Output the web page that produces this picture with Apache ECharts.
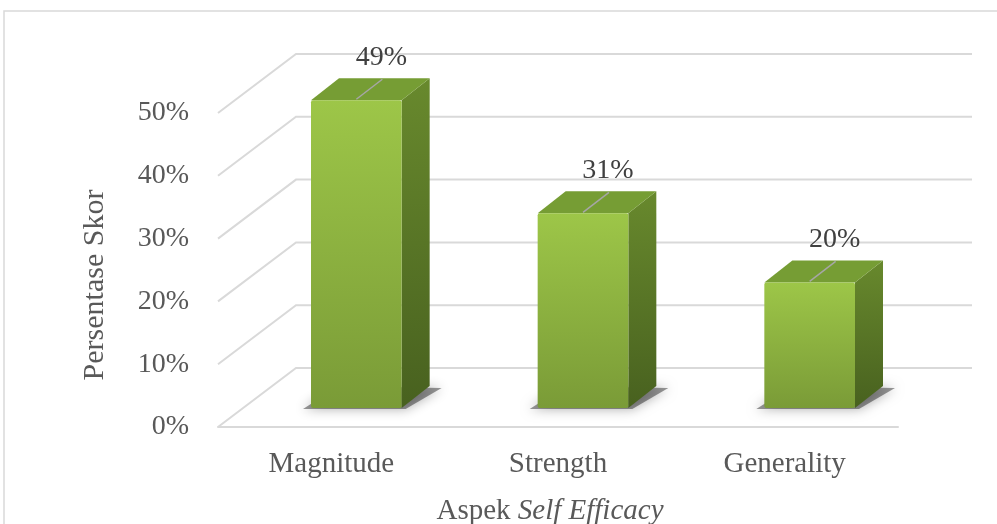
<!DOCTYPE html>
<html>
<head>
<meta charset="utf-8">
<script src="https://cdn.jsdelivr.net/npm/echarts@6/dist/echarts.min.js"></script>
<style>
  html, body { margin: 0; padding: 0; background: #fff; }
  #chart { width: 997px; height: 524px; }
</style>
</head>
<body>
<div id="chart"></div>
<script>
// data
var categories = ['Magnitude', 'Strength', 'Generality'];
var scores = [49, 31, 20];
var tickValues = [0, 10, 20, 30, 40, 50];

var FONT = 'Liberation Serif';
// depth of the floor (front -> back wall), px
var DEPTH = [78, -59];
// bars sit a bit behind the front plane
var BAR_SHIFT = [25, -19];
var BAR_DEPTH = [28, -22];

var chart = echarts.init(document.getElementById('chart'));

chart.setOption({
  animation: false,
  graphic: [{
    type: 'rect',
    shape: { x: 4, y: 11, width: 1000, height: 530 },
    style: { fill: 'none', stroke: '#d9d9d9', lineWidth: 1.5 },
    silent: true
  }],
  grid: { left: 218, top: 113, width: 680, height: 314, containLabel: false, outerBoundsMode: 'none' },
  xAxis: {
    type: 'category',
    data: categories,
    axisTick: { show: false },
    axisLine: { lineStyle: { color: '#d9d9d9', width: 2 } },
    axisLabel: { fontFamily: FONT, fontSize: 29, color: '#595959', margin: 23 },
    name: 'Aspek {i|Self Efficacy}',
    nameLocation: 'middle',
    nameGap: 70,
    nameTextStyle: {
      fontFamily: FONT, fontSize: 29, color: '#595959',
      padding: [0, 16, 0, 0],
      rich: { i: { fontFamily: FONT, fontSize: 29, color: '#595959', fontStyle: 'italic' } }
    }
  },
  yAxis: {
    type: 'value',
    min: 0,
    max: 50,
    interval: 10,
    axisLine: { show: false },
    axisTick: { show: false },
    splitLine: { show: false },
    axisLabel: { formatter: '{value}%', fontFamily: FONT, fontSize: 28, color: '#595959', margin: 29, padding: [6, 0, 0, 0] },
    name: 'Persentase Skor',
    nameLocation: 'middle',
    nameGap: 108,
    nameTextStyle: { fontFamily: FONT, fontSize: 30, color: '#595959', padding: [0, 30, 0, 0] }
  },
  series: [
    {
      // back wall + left wall grid lines
      type: 'custom',
      silent: true,
      z: 1,
      data: tickValues.map(function (v) { return [0, v]; }),
      encode: { x: 0, y: 1 },
      renderItem: function (params, api) {
        var cs = params.coordSys;
        var y = api.coord([0, api.value(1)])[1];
        var left = cs.x, right = cs.x + cs.width;
        return {
          type: 'polyline',
          shape: {
            points: [
              [left, y],
              [left + DEPTH[0], y + DEPTH[1]],
              [right + DEPTH[0] - 4, y + DEPTH[1]]
            ]
          },
          style: { fill: 'none', stroke: '#d9d9d9', lineWidth: 2 }
        };
      }
    },
    {
      type: 'custom',
      z: 2,
      data: scores.map(function (v, i) { return [i, v]; }),
      encode: { x: 0, y: 1 },
      renderItem: function (params, api) {
        var top = api.coord([api.value(0), api.value(1)]);
        var base = api.coord([api.value(0), 0]);
        var band = api.size([1, 0])[0];
        var w = band * 0.4;
        var x0 = top[0] - w / 2 + BAR_SHIFT[0];
        var x1 = x0 + w;
        var yT = top[1] + BAR_SHIFT[1];
        var yB = base[1] + BAR_SHIFT[1];
        var dx = BAR_DEPTH[0], dy = BAR_DEPTH[1];
        var cx = (x0 + x1) / 2;
        return {
          type: 'group',
          children: [
            {
              // soft floor shadow
              type: 'polygon',
              shape: { points: [[x0 - 8, yB + 1], [x1 + 4, yB + 1], [x1 + dx + 12, yB + dy + 2], [x0 + dx, yB + dy]] },
              style: { fill: 'rgba(0,0,0,0.4)', shadowBlur: 12, shadowColor: 'rgba(0,0,0,0.8)' }
            },
            {
              type: 'polygon',
              shape: { points: [[x1, yT], [x1 + dx, yT + dy], [x1 + dx, yB + dy], [x1, yB]] },
              style: {
                fill: new echarts.graphic.LinearGradient(0, 0, 0, 1, [
                  { offset: 0, color: '#68892d' },
                  { offset: 1, color: '#48611f' }
                ])
              }
            },
            {
              type: 'polygon',
              shape: { points: [[x0, yT], [x1, yT], [x1 + dx, yT + dy], [x0 + dx, yT + dy]] },
              style: { fill: '#769d34' }
            },
            {
              type: 'rect',
              shape: { x: x0, y: yT, width: w, height: yB - yT, r: 2 },
              style: {
                fill: new echarts.graphic.LinearGradient(0, 0, 0, 1, [
                  { offset: 0, color: '#9dc648' },
                  { offset: 1, color: '#7a9b37' }
                ])
              }
            },
            {
              type: 'line',
              shape: { x1: cx, y1: yT - 1, x2: cx + dx - 2, y2: yT + dy + 1 },
              style: { stroke: '#a6a6a6', lineWidth: 1.5 }
            },
            {
              type: 'text',
              style: {
                text: api.value(1) + '%',
                x: cx + dx - 3,
                y: yT + dy - 21,
                align: 'center',
                verticalAlign: 'middle',
                fontFamily: FONT,
                fontSize: 28,
                fill: '#404040'
              }
            }
          ]
        };
      }
    }
  ]
});
</script>
</body>
</html>
